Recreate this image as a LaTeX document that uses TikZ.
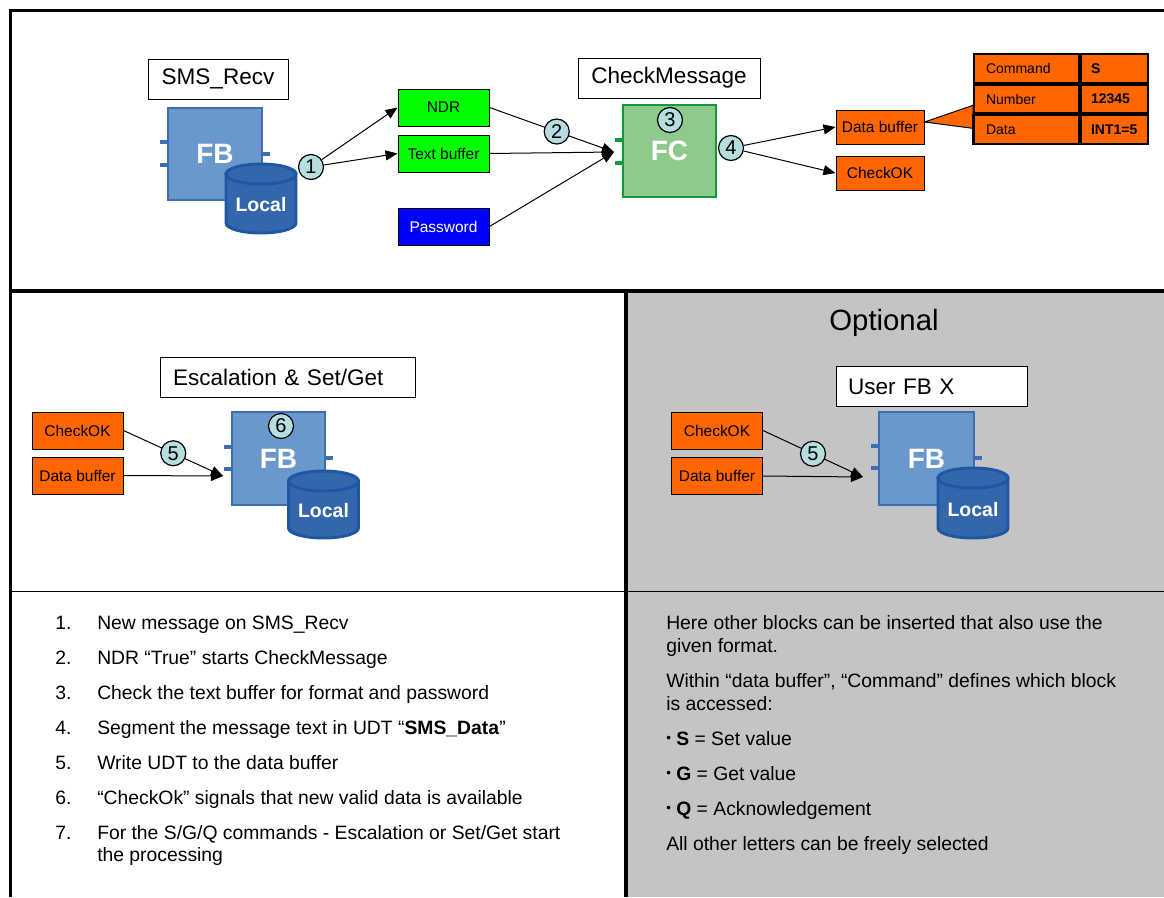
\documentclass[tikz,border=0pt]{standalone}
\usepackage{fontspec}
\setmainfont{Liberation Sans}
\usetikzlibrary{arrows.meta,calc}

\definecolor{fbfill}{HTML}{6A98CC}
\definecolor{fbline}{HTML}{3D6DB3}
\definecolor{dbfill}{HTML}{3366AA}
\definecolor{dbline}{HTML}{1E58A4}
\definecolor{fcfill}{HTML}{8DCB8D}
\definecolor{fcline}{HTML}{0F9A3C}
\definecolor{numfill}{HTML}{B6DEE0}
\definecolor{sigorange}{HTML}{FF6600}
\definecolor{siggreen}{HTML}{00FF00}
\definecolor{sigblue}{HTML}{0000FF}
\definecolor{panelgray}{HTML}{C4C4C4}

% database cylinder: #1 node name, #2 centre x, #3 top ellipse y, #4 bottom ellipse y, #5 text y
\newcommand\dbcyl[5]{%
  \filldraw[fill=dbfill,draw=dbline,line width=2.2pt]
    (#2-35,#3) -- (#2-35,#4) arc[start angle=180,end angle=0,x radius=35,y radius=10]
    -- (#2+35,#3) -- cycle;
  \filldraw[fill=dbfill,draw=dbline,line width=2.2pt] (#2,#3) ellipse[x radius=35,y radius=10];
  \node[text=white,font=\bfseries\fontsize{14.6}{16}\selectfont,inner sep=0pt] (#1) at (#2,#5) {Local};
}
% small list bullet
\newcommand\smallbul{{\fontsize{10}{10}\selectfont\raisebox{0.16em}{•}}}

\begin{document}
\begin{tikzpicture}[x=0.75pt,y=-0.75pt,
  sz/.style 2 args={minimum width=#1*0.75pt,minimum height=#2*0.75pt},
  sig/.style={draw=black,line width=0.75pt,inner sep=0pt,sz={91}{37},
    font=\fontsize{11.6}{13}\selectfont},
  lbl/.style={draw=black,fill=white,line width=0.75pt,inner ysep=0pt,
    font=\fontsize{16.9}{20}\selectfont,minimum height=40*0.75pt},
  num/.style={circle,draw=black,fill=numfill,line width=0.9pt,minimum size=18.75pt,
    inner sep=0pt,font=\fontsize{15}{15}\selectfont},
  fbbox/.style={draw=fbline,fill=fbfill,line width=2.2pt,inner sep=0pt,text=white,
    font=\bfseries\fontsize{21}{22}\selectfont},
  fcbox/.style={draw=fcline,fill=fcfill,line width=2.2pt,inner sep=0pt,text=white,
    font=\bfseries\fontsize{21}{22}\selectfont},
  arr/.style={line width=0.75pt,-{Triangle[length=9pt,width=7.5pt]}},
  cellL/.style={draw=black,line width=1.5pt,fill=sigorange,anchor=north west,
    inner ysep=0pt,inner xsep=9pt,text width=60.75pt,minimum height=21.5pt,align=left,
    font=\fontsize{10.5}{12}\selectfont},
  cellR/.style={cellL,inner xsep=7.5pt,text width=35.25pt,font=\bfseries\fontsize{10.5}{12}\selectfont},
  txt/.style={anchor=base west,inner sep=0pt,font=\fontsize{14.5}{17}\selectfont}
]
\useasboundingbox (0,0) rectangle (1164,897);

% panels and frame
\fill[panelgray] (627,291) rectangle (1164,897);
\draw[line width=0.75pt] (10,591) -- (1164,591);
\draw[line width=2.25pt] (9,10) -- (1164,10);
\draw[line width=2.25pt] (10,10) -- (10,897);
\draw[line width=3pt] (9,291) -- (1164,291);
\draw[line width=3pt] (626,291) -- (626,897);

% ---------- SMS_Recv ----------
\node[lbl,minimum width=140*0.75pt] (lrecv) at (218,79) {SMS\_Recv};
\fill[fbline] (160,140) rectangle (168,144);
\fill[fbline] (160,163) rectangle (168,167);
\fill[fbline] (262,152) rectangle (270,156);
\node[fbbox,sz={94}{92}] (fb1) at (215,154) {FB};
\dbcyl{db1}{261}{174}{223}{205}
\node[num] (c1) at (311,167) {1};

\node[sig,fill=siggreen] (ndr) at (443.5,107.5) {NDR};
\node[sig,fill=siggreen] (tbuf) at (443.5,153.5) {Text buffer};
\node[sig,fill=sigblue,text=white] (pwd) at (443.5,226.5) {Password};
\draw[arr] (c1) -- (ndr.west);
\draw[arr] (c1) -- (tbuf.west);

% ---------- CheckMessage ----------
\node[lbl,minimum width=182*0.75pt] (lcheck) at (669,78) {CheckMessage};
\fill[fcline] (615,138) rectangle (623,142);
\fill[fcline] (615,161) rectangle (623,165);
\node[fcbox,sz={93}{92}] (fc) at (669.5,151) {FC};
\node[num] (c3) at (670,120) {3};
\coordinate (fcin) at (614,152);
\draw[arr] (ndr.east) -- node[num,pos=0.54] (c2) {2} (fcin);
\draw[arr] (tbuf.east) -- (fcin);
\draw[arr] (pwd.east) -- (fcin);

\node[num] (c4) at (731,148) {4};
\node[sig,fill=sigorange,sz={88}{34}] (dbuf) at (880,127) {Data buffer};
\node[sig,fill=sigorange,sz={88}{34}] (chk) at (880,173) {CheckOK};
\draw[arr] (c4) -- (dbuf.west);
\draw[arr] (c4) -- (chk.west);

% data buffer contents
\node[cellL] (tcmd) at (973,53) {Command};
\node[cellR] (tcmdv) at (tcmd.north east) {S};
\node[cellL] (tnum) at (tcmd.south west) {Number};
\node[cellR] (tnumv) at (tnum.north east) {12345};
\node[cellL] (tdat) at (tnum.south west) {Data};
\node[cellR] (tdatv) at (tdat.north east) {INT1=5};
\filldraw[fill=sigorange,draw=black,line width=0.75pt]
  ($(dbuf.east)+(0,-5)$) -- ($(tnum.south west)+(0,-9)$) -- ($(tdat.north west)+(0,14)$) -- cycle;
\draw[line width=1.5pt] (tnum.south west) -- (tdat.south west);

% ---------- Escalation & Set/Get ----------
\node[lbl,inner xsep=13*0.75pt,text width=229*0.75pt,align=left] (lesc) at (287.5,377.5) {Escalation \& Set/Get};
\node[sig,fill=sigorange] (ok2) at (77.5,430.5) {CheckOK};
\node[sig,fill=sigorange] (buf2) at (77.5,475.5) {Data buffer};
\fill[fbline] (224,445) rectangle (232,449);
\fill[fbline] (224,467) rectangle (232,471);
\fill[fbline] (325,456) rectangle (333,460);
\node[fbbox,sz={93}{93}] (fb2) at (278.5,458.5) {FB};
\node[num] (c6) at (281,426) {6};
\dbcyl{db2}{323.5}{481}{528}{511}
\coordinate (fbin2) at (223,476);
\draw[arr] (ok2.east) -- node[num,pos=0.5] (c5a) {5} (fbin2);
\draw[arr] (buf2.east) -- (fbin2);

% ---------- Optional ----------
\node[inner sep=0pt,font=\fontsize{22}{24}\selectfont] (opt) at (884,323) {Optional};
\node[lbl,inner xsep=12*0.75pt,text width=167*0.75pt,align=left] (luser) at (931.5,386.5) {User FB X};
\node[sig,fill=sigorange] (ok3) at (717,430.5) {CheckOK};
\node[sig,fill=sigorange] (buf3) at (717,476) {Data buffer};
\fill[fbline] (871,444) rectangle (879,448);
\fill[fbline] (871,466) rectangle (879,470);
\fill[fbline] (974,456) rectangle (982,460);
\node[fbbox,sz={95}{93}] (fb3) at (926.5,458.5) {FB};
\dbcyl{db3}{973}{478}{528}{510}
\coordinate (fbin3) at (863,477);
\draw[arr] (ok3.east) -- node[num,pos=0.5] (c5b) {5} (fbin3);
\draw[arr] (buf3.east) -- (fbin3);

% ---------- step list ----------
\node[txt] (n1) at (55,629) {1.};
\node[txt] (s1) at (97,629) {New message on SMS\_Recv};
\node[txt] (n2) at (55,664) {2.};
\node[txt] (s2) at (97,664) {NDR “True” starts CheckMessage};
\node[txt] (n3) at (55,699) {3.};
\node[txt] (s3) at (97,699) {Check the text buffer for format and password};
\node[txt] (n4) at (55,734) {4.};
\node[txt] (s4) at (97,734) {Segment the message text in UDT “\textbf{SMS\_Data}”};
\node[txt] (n5) at (55,769) {5.};
\node[txt] (s5) at (97,769) {Write UDT to the data buffer};
\node[txt] (n6) at (55,804) {6.};
\node[txt] (s6) at (97,804) {“CheckOk” signals that new valid data is available};
\node[txt] (n7) at (55,839) {7.};
\node[txt] (s7) at (97,839) {For the S/G/Q commands - Escalation or Set/Get start};
\node[txt] (s7b) at (97,861) {the processing};

% ---------- notes on the optional block ----------
\node[txt] (r1) at (666,629) {Here other blocks can be inserted that also use the};
\node[txt] (r1b) at (666,652) {given format.};
\node[txt] (r2) at (666,687) {Within “data buffer”, “Command” defines which block};
\node[txt] (r2b) at (666,710) {is accessed:};
\node[txt] (r3) at (666,745) {\smallbul\ \textbf{S} = Set value};
\node[txt] (r4) at (666,780) {\smallbul\ \textbf{G} = Get value};
\node[txt] (r5) at (666,815) {\smallbul\ \textbf{Q} = Acknowledgement};
\node[txt] (r6) at (666,850) {All other letters can be freely selected};
\end{tikzpicture}
\end{document}
